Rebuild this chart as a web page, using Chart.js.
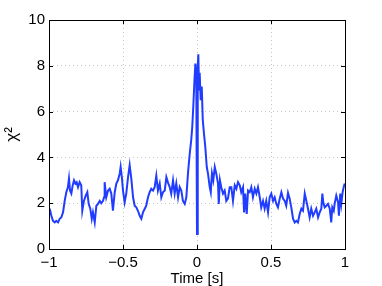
<!DOCTYPE html>
<html>
<head>
<meta charset="utf-8">
<script src="https://cdn.jsdelivr.net/npm/chart.js@4"></script>
<style>
  html, body { margin: 0; padding: 0; background: #fff; }
  canvas { display: block; }
</style>
</head>
<body>
<canvas id="chi2Chart" width="382" height="286"></canvas>
<script>
// time axis (s) and chi^2 values
const times = [
  -0.995, -0.984, -0.973, -0.961, -0.951, -0.939, -0.928, -0.917, -0.905, -0.894,
  -0.883, -0.872, -0.865, -0.858, -0.849, -0.840, -0.831, -0.822, -0.813, -0.804,
  -0.793, -0.782, -0.775, -0.764, -0.752, -0.741, -0.732, -0.721, -0.711, -0.703,
  -0.691, -0.680, -0.669, -0.657, -0.647, -0.635, -0.628, -0.624, -0.613, -0.601,
  -0.590, -0.579, -0.568, -0.556, -0.545, -0.534, -0.522, -0.516, -0.507, -0.500,
  -0.489, -0.478, -0.466, -0.455, -0.444, -0.432, -0.421, -0.410, -0.399, -0.387,
  -0.376, -0.365, -0.353, -0.343, -0.331, -0.320, -0.309, -0.297, -0.286, -0.275,
  -0.264, -0.252, -0.241, -0.230, -0.218, -0.207, -0.196, -0.184, -0.174, -0.162,
  -0.151, -0.140, -0.128, -0.117, -0.106, -0.095, -0.083, -0.072, -0.061, -0.049,
  -0.039, -0.032, -0.025, -0.018, -0.011, -0.005, 0.000, 0.005, 0.009, 0.014,
  0.018, 0.025, 0.032, 0.039, 0.047, 0.056, 0.066, 0.074, 0.086, 0.093,
  0.101, 0.110, 0.120, 0.130, 0.142, 0.147, 0.155, 0.164, 0.176, 0.187,
  0.198, 0.209, 0.221, 0.232, 0.243, 0.255, 0.266, 0.277, 0.289, 0.299,
  0.311, 0.318, 0.326, 0.336, 0.345, 0.356, 0.367, 0.378, 0.390, 0.401,
  0.412, 0.424, 0.434, 0.446, 0.457, 0.468, 0.480, 0.491, 0.502, 0.514,
  0.525, 0.536, 0.547, 0.559, 0.570, 0.581, 0.593, 0.603, 0.615, 0.626,
  0.637, 0.649, 0.660, 0.671, 0.682, 0.694, 0.705, 0.716, 0.728, 0.739,
  0.750, 0.761, 0.772, 0.784, 0.795, 0.806, 0.818, 0.829, 0.840, 0.847,
  0.853, 0.863, 0.874, 0.885, 0.897, 0.907, 0.914, 0.924, 0.930, 0.941,
  0.953, 0.959, 0.968, 0.975, 0.984, 0.991, 0.998
];
const chi2 = [
  1.76, 1.45, 1.23, 1.16, 1.23, 1.16, 1.32, 1.38, 1.60, 2.10,
  2.48, 2.70, 3.08, 2.55, 2.42, 2.78, 3.00, 2.86, 2.92, 2.70,
  2.92, 2.78, 1.67, 2.10, 2.33, 2.48, 1.97, 1.76, 1.32, 1.60,
  1.16, 1.89, 1.97, 2.10, 2.00, 2.10, 2.26, 2.92, 2.26, 2.55,
  2.63, 2.42, 1.67, 2.48, 2.86, 3.00, 3.30, 3.58, 3.08, 2.55,
  2.04, 2.42, 3.14, 3.66, 3.08, 2.26, 1.89, 1.82, 1.67, 1.45,
  1.32, 1.60, 1.76, 1.89, 2.26, 2.48, 2.63, 2.55, 2.70, 3.20,
  2.55, 2.86, 2.26, 2.48, 2.55, 3.14, 2.90, 2.70, 2.42, 3.00,
  2.42, 2.86, 2.26, 2.70, 2.55, 2.10, 1.97, 2.26, 3.30, 4.17,
  4.76, 5.34, 6.22, 7.25, 8.10, 7.70, 0.65, 8.00, 8.50, 6.96,
  7.70, 6.50, 7.10, 5.64, 5.05, 4.46, 3.58, 3.30, 2.70, 2.48,
  3.30, 3.00, 3.58, 3.30, 2.86, 1.97, 3.00, 2.70, 2.42, 2.55,
  2.10, 2.20, 2.70, 2.70, 2.10, 2.78, 2.63, 2.92, 2.78, 2.48,
  2.70, 1.60, 2.42, 1.53, 2.55, 2.48, 2.70, 2.26, 2.63, 2.42,
  2.70, 2.26, 1.82, 2.10, 1.76, 2.10, 1.60, 2.26, 2.42, 2.10,
  2.26, 1.97, 1.82, 2.20, 2.48, 2.20, 2.10, 1.89, 2.45, 2.20,
  1.82, 1.32, 1.16, 1.23, 1.16, 1.53, 1.76, 1.67, 2.42, 2.10,
  1.76, 1.38, 1.76, 1.45, 1.60, 1.76, 1.38, 1.60, 1.76, 2.42,
  2.04, 1.82, 1.89, 1.97, 1.76, 1.16, 1.82, 1.67, 1.97, 2.33,
  2.04, 1.45, 2.42, 1.97, 2.48, 2.70, 2.86
];
const xTicks = [-1, -0.5, 0, 0.5, 1];
const yTicks = [0, 2, 4, 6, 8, 10];

const points = times.map((t, i) => ({ x: t, y: chi2[i] }));
const font = { family: "'Liberation Sans', Arial, sans-serif", size: 15 };

// matlab style box with inward tick marks
const boxPlugin = {
  id: "box",
  afterDraw(chart) {
    const { ctx, chartArea: a, scales } = chart;
    ctx.save();
    ctx.strokeStyle = "#000";
    ctx.lineWidth = 1;
    ctx.strokeRect(Math.round(a.left) + 0.5, Math.round(a.top) + 0.5,
      Math.round(a.right - a.left), Math.round(a.bottom - a.top));
    ctx.beginPath();
    xTicks.forEach(v => {
      const px = Math.round(scales.x.getPixelForValue(v)) + 0.5;
      ctx.moveTo(px, a.bottom); ctx.lineTo(px, a.bottom - 4);
      ctx.moveTo(px, a.top); ctx.lineTo(px, a.top + 4);
    });
    yTicks.forEach(v => {
      const py = Math.round(scales.y.getPixelForValue(v)) + 0.5;
      ctx.moveTo(a.left, py); ctx.lineTo(a.left + 4, py);
      ctx.moveTo(a.right, py); ctx.lineTo(a.right - 4, py);
    });
    ctx.stroke();
    ctx.restore();
  }
};

new Chart(document.getElementById("chi2Chart"), {
  type: "line",
  data: {
    datasets: [{
      data: points,
      borderColor: "rgb(32,60,255)",
      borderWidth: 2,
      pointRadius: 0,
      tension: 0,
      fill: false
    }]
  },
  options: {
    responsive: false,
    animation: false,
    layout: { padding: { top: 20, right: 37, left: 0, bottom: 0 } },
    plugins: { legend: { display: false }, tooltip: { enabled: false } },
    scales: {
      x: {
        type: "linear",
        min: -1,
        max: 1,
        afterFit: s => { s.height = 37; },
        afterBuildTicks: s => { s.ticks = xTicks.map(v => ({ value: v })); },
        grid: { color: "#c4c4c4", drawTicks: false },
        border: { display: false, dash: [1, 3] },
        ticks: {
          color: "#000",
          font: font,
          padding: 5,
          maxRotation: 0,
          callback: v => String(v).replace("-", "\u2212")
        },
        title: {
          display: true,
          text: "Time [s]",
          color: "#000",
          font: font,
          padding: { top: 0, bottom: -2 }
        }
      },
      y: {
        min: 0,
        max: 10,
        afterFit: s => { s.width = 49; },
        afterBuildTicks: s => { s.ticks = yTicks.map(v => ({ value: v })); },
        grid: { color: "#c4c4c4", drawTicks: false },
        border: { display: false, dash: [1, 3] },
        ticks: { color: "#000", font: font, padding: 4 },
        title: {
          display: true,
          text: "\u03c7\u00b2",
          color: "#000",
          font: { family: font.family, size: 17 },
          padding: { top: 2, bottom: 0 }
        }
      }
    }
  },
  plugins: [boxPlugin]
});
</script>
</body>
</html>
